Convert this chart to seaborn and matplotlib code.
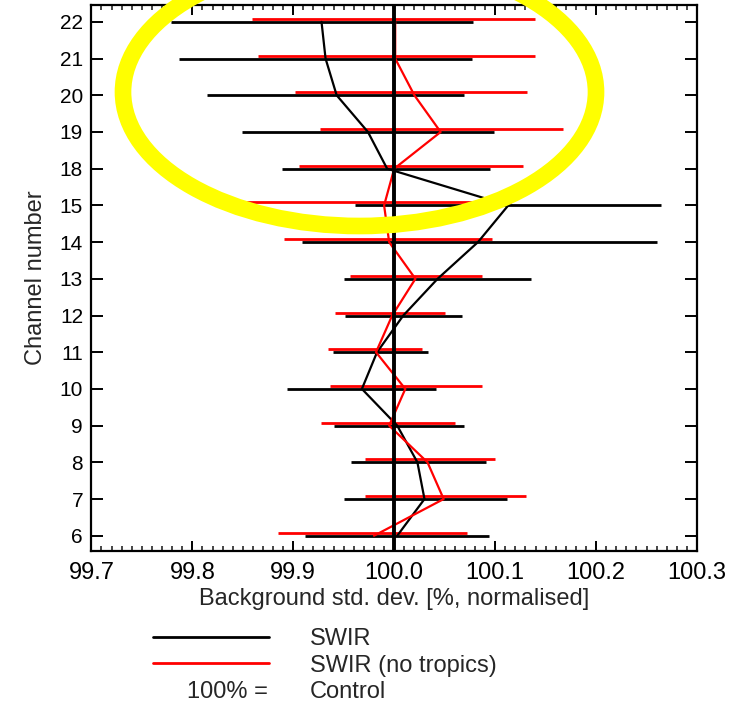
import numpy as np
import pandas as pd
import matplotlib
matplotlib.use("Agg")
import matplotlib.pyplot as plt
import seaborn as sns
from matplotlib.patches import Ellipse
from matplotlib.lines import Line2D
from matplotlib.ticker import MultipleLocator, FormatStrFormatter

# channels shown (evenly spaced, 16/17 not plotted)
channels = [6, 7, 8, 9, 10, 11, 12, 13, 14, 15, 18, 19, 20, 21, 22]

# SWIR experiment: centre value and error bar ends
swir = [100.003, 100.030, 100.023, 100.003, 99.968, 99.983, 100.009, 100.043,
        100.083, 100.113, 99.993, 99.974, 99.943, 99.932, 99.928]
swir_lo = [99.912, 99.950, 99.957, 99.940, 99.894, 99.939, 99.951, 99.950,
           99.909, 99.961, 99.889, 99.849, 99.815, 99.787, 99.779]
swir_hi = [100.094, 100.112, 100.091, 100.069, 100.041, 100.033, 100.067, 100.136,
           100.260, 100.264, 100.095, 100.099, 100.069, 100.077, 100.078]

# SWIR (no tropics)
notrop = [99.980, 100.049, 100.033, 99.995, 100.011, 99.982, 99.998, 100.021,
          99.995, 99.990, 100.000, 100.046, 100.020, 100.001, 100.001]
notrop_lo = [99.885, 99.971, 99.971, 99.927, 99.936, 99.934, 99.941, 99.956,
             99.891, 99.850, 99.906, 99.926, 99.902, 99.865, 99.859]
notrop_hi = [100.072, 100.131, 100.100, 100.060, 100.087, 100.028, 100.050, 100.087,
             100.097, 100.116, 100.128, 100.167, 100.132, 100.139, 100.139]

sns.set_theme(style="white")
plt.rcParams['font.family'] = ['Liberation Sans', 'DejaVu Sans']

FS = 17
pos = np.arange(len(channels))
df = pd.DataFrame({'pos': pos, 'swir': swir, 'notrop': notrop})

fig = plt.figure(figsize=(7.49, 7.03), dpi=100)
ax = fig.add_axes([0.122, 0.216, 0.8086, 0.7769])

# error bars (red drawn slightly above black)
s = np.array(swir)
ax.errorbar(s, pos, xerr=[s - np.array(swir_lo), np.array(swir_hi) - s],
            fmt='none', ecolor='black', elinewidth=2, capsize=0, zorder=2)
n = np.array(notrop)
ax.errorbar(n, pos + 0.08, xerr=[n - np.array(notrop_lo), np.array(notrop_hi) - n],
            fmt='none', ecolor='red', elinewidth=2, capsize=0, zorder=3)

sns.lineplot(data=df, x='swir', y='pos', orient='y', sort=False, color='black',
             lw=1.6, ax=ax, zorder=4)
sns.lineplot(data=df, x='notrop', y='pos', orient='y', sort=False, color='red',
             lw=1.6, ax=ax, zorder=5)

ax.axvline(100.0, color='black', lw=2.8, zorder=6)

ax.set_xlim(99.7, 100.3)
ax.set_ylim(-0.42, 14.46)
ax.xaxis.set_major_locator(MultipleLocator(0.1))
ax.xaxis.set_minor_locator(MultipleLocator(0.01))
ax.xaxis.set_major_formatter(FormatStrFormatter('%.1f'))
ax.set_yticks(pos)
ax.set_yticklabels([str(c) for c in channels])
ax.tick_params(axis='x', which='major', direction='in', top=True, bottom=True,
               length=7.5, width=1.4, pad=8, labelsize=FS, colors='black')
ax.tick_params(axis='x', which='minor', direction='in', top=True, bottom=True,
               length=3.8, width=1.2)
ax.tick_params(axis='y', which='major', direction='in', left=True, right=True,
               length=8.5, width=1.4, pad=6, labelsize=15, colors='black')
for sp in ax.spines.values():
    sp.set_linewidth(1.6)
    sp.set_color('black')

ax.set_xlabel('Background std. dev. [%, normalised]', fontsize=FS, labelpad=3)
ax.set_ylabel('Channel number', fontsize=FS, labelpad=9)

# legend below the plot
handles = [Line2D([], [], color='black', lw=2),
           Line2D([], [], color='red', lw=2),
           Line2D([], [], color='none', lw=0)]
leg = fig.legend(handles, ['SWIR', 'SWIR (no tropics)', 'Control'],
                 loc='upper left', bbox_to_anchor=(153 / 749, 1 - 628 / 703),
                 frameon=False, fontsize=FS, handlelength=4.9, handletextpad=1.75,
                 labelspacing=0.2, borderpad=0, borderaxespad=0)

# "100% =" sits in the handle column of the last legend row
fig.canvas.draw()
bb = leg.get_texts()[2].get_window_extent()
yc = fig.transFigure.inverted().transform((0, (bb.y0 + bb.y1) / 2))[1]
fig.text(268 / 749, yc, '100% =', ha='right', va='center', fontsize=FS)

# yellow highlight ring
ring = Ellipse((359.5 / 749, 1 - 92 / 703), 473 / 749, 268 / 703,
               transform=fig.transFigure, fill=False, edgecolor='#ffff00',
               lw=12, zorder=20)
fig.add_artist(ring)

fig.savefig('out.png', dpi=100)
